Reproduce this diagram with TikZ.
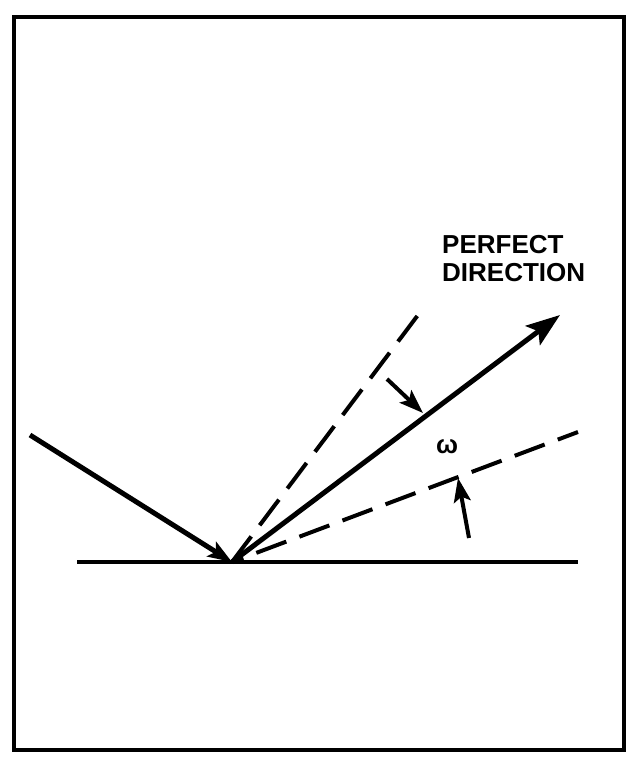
\documentclass[tikz,border=0pt]{standalone}
\usepackage{fontspec}
\setmainfont{Liberation Sans}
\usetikzlibrary{arrows.meta}
\begin{document}
\begin{tikzpicture}[x=1pt,y=-1pt,
  frame/.style={line width=3.5pt},
  thick line/.style={line width=5pt},
  dashline/.style={line width=4pt,dash pattern=on 32pt off 14pt},
  bigtip/.style={-{Stealth[length=34pt,width=24pt,inset=7pt]}},
  smalltip/.style={-{Stealth[length=24pt,width=17pt,inset=5pt]}},
  lbl/.style={font=\fontsize{26}{28}\selectfont\bfseries, inner sep=0pt}]
\useasboundingbox (0,0) rectangle (631,764);
\draw[frame] (14,17) rectangle (624,750);
\coordinate (O) at (232,562);
\coordinate (S1) at (77,562);
\coordinate (S2) at (578,562);
\coordinate (I) at (30,435);
\coordinate (P) at (560,315);
\coordinate (U) at (418,315);
\coordinate (L) at (578,432);
\coordinate (a1) at (387,379);
\coordinate (a2) at (423,413);
\coordinate (b1) at (469,538);
\coordinate (b2) at (458,478);
\draw[line width=4pt] (S1) -- (S2);
\draw[thick line,smalltip] (I) -- (O);
\draw[thick line,bigtip] (O) -- (P);
\draw[dashline] (O) -- (U);
\draw[dashline,dash phase=20pt] (O) -- (L);
\draw[line width=4pt,smalltip] (a1) -- (a2);
\draw[line width=4pt,smalltip] (b1) -- (b2);
\node[lbl,anchor=north west,align=left] (t) at (442,235) {PERFECT\\DIRECTION};
\node[font=\fontsize{26}{28}\selectfont\bfseries, inner sep=0pt] (w) at (447,447) {ω};
\end{tikzpicture}
\end{document}
